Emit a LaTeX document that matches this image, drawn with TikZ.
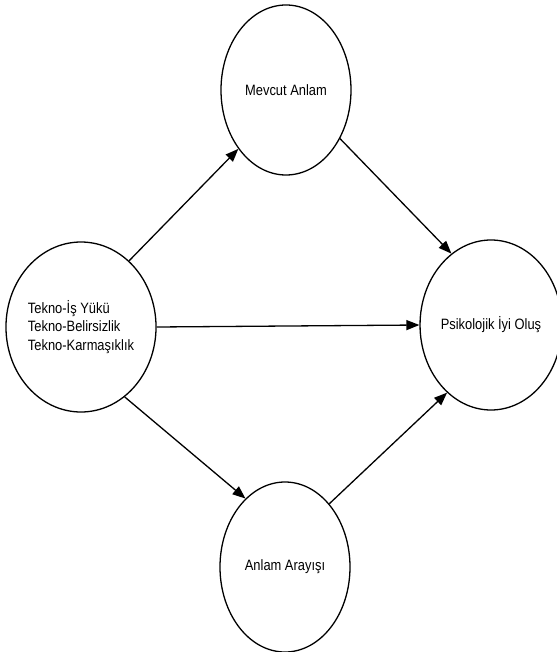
\documentclass[tikz,border=0pt]{standalone}
\usepackage{fontspec}
\setmainfont{Liberation Sans}[FakeStretch=0.86]
\usepackage{tikz}
\usetikzlibrary{arrows.meta}
\usetikzlibrary{shapes.geometric}

\begin{document}
\begin{tikzpicture}[x=1pt,y=-1pt,
        circ/.style={draw,ellipse,line width=1.3pt,minimum width=130pt,minimum height=170pt,inner sep=0pt,font=\fontsize{15}{18.3}\selectfont},
        arr/.style={line width=1.3pt,-{Triangle[length=13pt,width=10pt]}}]
        \useasboundingbox (0,0) rectangle (556,652);

        \node[circ] (mevcut) at (286,90) {Mevcut Anlam};
        \node[circ,align=left] (tekno) at (81,327) {Tekno-İş Yükü\\Tekno-Belirsizlik\\Tekno-Karmaşıklık};
        \node[circ] (psiko) at (491,325) {Psikolojik İyi Oluş};
        \node[circ] (arayis) at (285,567) {Anlam Arayışı};

        % arrows
        \draw[arr] (tekno.54) -- (mevcut.231);
        \draw[arr] (mevcut.-42) -- (psiko.119);
        \draw[arr] (tekno.0) -- (psiko.180);
        \draw[arr] (tekno.-58) -- (arayis.120);
        \draw[arr] (arayis.55) -- (psiko.-123);
    \end{tikzpicture}
\end{document}
